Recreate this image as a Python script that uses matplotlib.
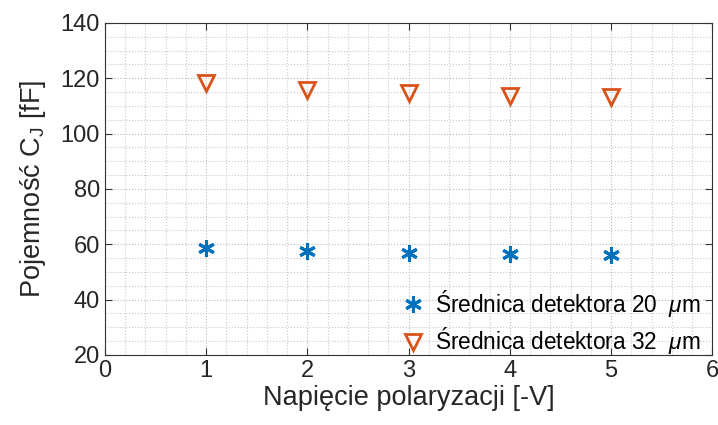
import matplotlib.pyplot as plt
from matplotlib.ticker import MultipleLocator

plt.rcParams['font.family'] = ['Liberation Sans', 'DejaVu Sans']
plt.rcParams['mathtext.fontset'] = 'custom'
plt.rcParams['mathtext.rm'] = 'Liberation Sans'
plt.rcParams['mathtext.it'] = 'Liberation Sans:italic'

voltage = [1, 2, 3, 4, 5]
cap_20um = [58.8, 57.4, 56.8, 56.4, 56.1]
cap_32um = [118.4, 115.7, 114.5, 113.7, 113.2]

fig = plt.figure(figsize=(7.18, 4.25), dpi=100)
ax = fig.add_axes([0.146, 0.165, 0.846, 0.781])

ax.plot(voltage, cap_20um, linestyle='none', marker=(6, 2, 0), markersize=12,
        markeredgewidth=2.2, color='#0072BD', label=r'Średnica detektora 20  $\mu$m')
ax.plot(voltage, cap_32um, linestyle='none', marker='v', markersize=12,
        markeredgewidth=2, markerfacecolor='none', color='#D95319',
        label=r'Średnica detektora 32  $\mu$m')

ax.set_xlim(0, 6)
ax.set_ylim(20, 140)
ax.xaxis.set_major_locator(MultipleLocator(1))
ax.yaxis.set_major_locator(MultipleLocator(20))
ax.xaxis.set_minor_locator(MultipleLocator(0.2))
ax.yaxis.set_minor_locator(MultipleLocator(5))
ax.grid(True, which='minor', linestyle=':', color='#c8c8c8', linewidth=0.8)
ax.grid(True, which='major', linestyle=':', color='#bbbbbb', linewidth=0.8)
ax.tick_params(which='major', direction='in', top=True, right=True, length=5,
               labelsize=17, color='#333333', labelcolor='#262626')
ax.tick_params(which='minor', length=0)
for s in ax.spines.values():
    s.set_color('#333333')
    s.set_linewidth(0.8)

ax.set_xlabel('Napięcie polaryzacji [-V]', fontsize=19.5, color='#262626', labelpad=2)
ax.set_ylabel(r'Pojemność C$_\mathrm{J}$ [fF]', fontsize=19.5, color='#262626', labelpad=9)

leg = ax.legend(loc='lower right', bbox_to_anchor=(0.987, -0.015), frameon=False,
                fontsize=16.3, handletextpad=0.4, borderaxespad=0.0, borderpad=0.15,
                labelspacing=0.3, handlelength=1.2)

fig.savefig('out.png', dpi=100)
